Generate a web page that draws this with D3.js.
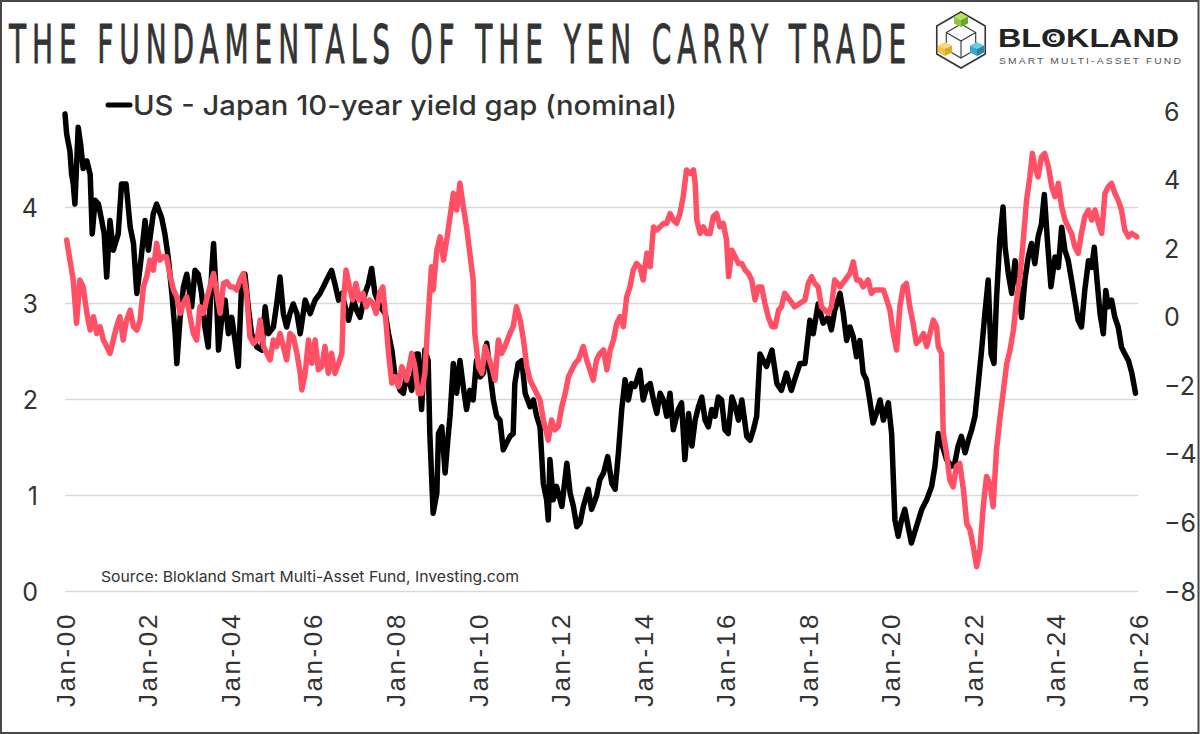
<!DOCTYPE html>
<html><head><meta charset="utf-8">
<script src="https://cdn.jsdelivr.net/npm/d3@7"></script>
<style>html,body{margin:0;padding:0;background:#fff;} svg{display:block}</style>
</head><body>
<svg id="chart" width="1200" height="734"></svg>
<script>
const titleText = "THE FUNDAMENTALS OF THE YEN CARRY TRADE";
const brandName = "BLOKLAND";
const brandSub = "SMART MULTI-ASSET FUND";
const legendLabel = "US - Japan 10-year yield gap (nominal)";
const sourceText = "Source: Blokland Smart Multi-Asset Fund, Investing.com";
const leftTicks = [0, 1, 2, 3, 4];
const rightTicks = [-8, -6, -4, -2, 0, 2, 4, 6];
const xTickYears = [2000, 2002, 2004, 2006, 2008, 2010, 2012, 2014, 2016, 2018, 2020, 2022, 2024, 2026];
const xTickLabels = ["Jan-00", "Jan-02", "Jan-04", "Jan-06", "Jan-08", "Jan-10", "Jan-12", "Jan-14", "Jan-16", "Jan-18", "Jan-20", "Jan-22", "Jan-24", "Jan-26"];

// US - Japan 10-year yield gap (left axis), dates as decimal years
const gapDates = [2000.00,2000.04,2000.12,2000.16,2000.20,2000.24,2000.32,2000.38,2000.44,2000.53,2000.61,2000.66,2000.73,2000.81,2000.89,2000.95,2001.01,2001.09,2001.17,2001.29,2001.37,2001.48,2001.58,2001.66,2001.74,2001.82,2001.94,2002.02,2002.14,2002.22,2002.34,2002.42,2002.50,2002.59,2002.67,2002.71,2002.79,2002.87,2002.95,2003.07,2003.15,2003.23,2003.31,2003.39,2003.47,2003.56,2003.60,2003.68,2003.72,2003.80,2003.88,2003.96,2004.04,2004.12,2004.20,2004.28,2004.36,2004.44,2004.52,2004.65,2004.77,2004.85,2004.93,2005.05,2005.13,2005.21,2005.29,2005.37,2005.45,2005.53,2005.62,2005.70,2005.82,2005.94,2006.06,2006.18,2006.26,2006.34,2006.46,2006.54,2006.63,2006.71,2006.79,2006.87,2006.99,2007.07,2007.15,2007.27,2007.35,2007.43,2007.51,2007.64,2007.76,2007.84,2007.92,2008.00,2008.12,2008.20,2008.28,2008.40,2008.52,
2008.56,2008.64,2008.72,2008.80,2008.84,2008.92,2009.01,2009.05,2009.13,2009.21,2009.29,2009.33,2009.41,2009.49,2009.57,2009.65,2009.73,2009.81,2009.89,2009.97,2010.06,2010.14,2010.22,2010.30,2010.38,2010.46,2010.54,2010.62,2010.70,2010.78,2010.86,2010.90,2010.98,2011.07,2011.15,2011.27,2011.35,2011.43,2011.51,2011.59,2011.67,2011.71,2011.75,2011.83,2011.91,2012.04,2012.16,2012.24,2012.32,2012.40,2012.48,2012.56,2012.68,2012.76,2012.88,2012.96,2013.05,2013.15,2013.25,2013.33,2013.41,2013.49,2013.57,2013.65,2013.73,2013.81,2013.93,2014.01,2014.10,2014.18,2014.26,2014.34,2014.42,2014.50,2014.58,2014.66,2014.74,2014.86,2014.94,2015.02,2015.11,2015.19,2015.27,2015.35,2015.43,2015.51,2015.59,2015.67,2015.75,2015.83,2015.91,2015.99,2016.07,2016.16,2016.24,2016.32,2016.40,2016.52,2016.60,2016.68,2016.76,2016.84,2016.92,2017.00,2017.13,2017.25,
2017.36,2017.48,2017.60,2017.68,2017.81,2017.93,2018.05,2018.13,2018.25,2018.37,2018.49,2018.57,2018.65,2018.78,2018.86,2018.94,2019.02,2019.10,2019.18,2019.26,2019.34,2019.42,2019.50,2019.58,2019.66,2019.75,2019.83,2019.95,2020.03,2020.11,2020.19,2020.27,2020.35,2020.43,2020.51,2020.63,2020.76,2020.88,2021.00,2021.08,2021.16,2021.24,2021.36,2021.48,2021.56,2021.64,2021.72,2021.81,2021.89,2021.97,2022.05,2022.13,2022.21,2022.29,2022.37,2022.44,2022.51,2022.57,2022.65,2022.73,2022.78,2022.86,2022.94,2023.02,2023.10,2023.18,2023.26,2023.34,2023.42,2023.50,2023.58,2023.66,2023.73,2023.81,2023.89,2023.99,2024.07,2024.15,2024.23,2024.31,2024.39,2024.47,2024.55,2024.63,2024.71,2024.80,2024.88,2024.94,2025.00,2025.08,2025.16,2025.22,2025.28,2025.36,2025.44,2025.52,2025.60,2025.68,2025.77,2025.85,2025.94];
const gapValues = [4.97,4.76,4.58,4.34,4.24,4.03,4.83,4.65,4.40,4.48,4.34,3.72,4.07,4.03,3.86,3.72,3.27,3.86,3.55,3.72,4.24,4.24,3.79,3.62,3.10,3.37,3.86,3.55,3.93,4.03,3.89,3.72,3.48,3.10,2.68,2.37,2.85,3.17,3.30,2.96,3.34,3.30,3.10,2.75,2.54,3.37,3.62,2.96,2.51,2.85,3.03,2.68,2.85,2.61,2.34,3.20,3.30,2.96,2.68,2.54,2.51,2.96,2.68,2.75,2.99,3.27,2.89,2.75,2.89,2.99,2.89,2.68,3.03,2.89,3.03,3.10,3.17,3.24,3.34,3.20,3.03,3.10,2.96,2.82,3.03,2.92,2.85,3.10,3.20,3.36,3.10,2.96,2.89,2.68,2.51,2.23,2.09,2.06,2.27,2.09,2.47,
2.47,1.89,2.51,2.40,1.64,0.81,1.02,1.64,1.71,1.23,1.64,1.82,2.37,2.06,2.40,2.13,1.89,2.09,1.99,2.40,2.23,2.27,2.58,2.27,1.99,1.82,1.78,1.47,1.54,1.61,1.64,2.16,2.37,2.40,2.06,1.92,1.99,1.82,1.71,1.12,0.95,0.74,1.37,0.95,1.09,0.88,1.33,1.02,0.88,0.67,0.71,0.88,1.06,0.85,0.99,1.16,1.23,1.40,1.12,1.06,1.44,1.89,2.20,1.99,2.16,2.13,2.30,1.99,2.13,2.16,1.99,1.85,2.06,1.99,1.82,2.06,1.68,1.89,1.96,1.37,1.85,1.51,1.78,1.92,2.02,1.78,1.71,1.89,1.82,2.02,1.99,1.68,1.64,2.02,1.92,1.78,1.99,1.61,1.57,1.68,1.82,2.47,2.40,2.34,2.51,2.16,
2.09,2.27,2.09,2.20,2.37,2.37,2.82,2.68,2.99,2.79,2.85,2.72,2.92,3.10,2.89,2.61,2.75,2.65,2.44,2.61,2.27,2.20,1.99,1.75,1.85,1.99,1.78,1.96,1.64,0.74,0.57,0.74,0.85,0.67,0.50,0.67,0.85,0.95,1.09,1.30,1.64,1.54,1.37,1.30,1.33,1.51,1.61,1.44,1.57,1.68,1.82,2.16,2.51,2.89,3.24,2.47,2.37,3.03,3.65,4.00,3.58,3.30,3.10,3.44,3.20,2.85,3.24,3.48,3.62,3.41,3.69,3.82,4.13,3.62,3.17,3.48,3.37,3.79,3.55,3.44,3.24,3.03,2.82,2.75,3.13,3.44,3.37,3.58,3.27,2.89,2.68,3.13,2.96,3.03,2.85,2.75,2.54,2.47,2.40,2.27,2.06];

// Second (red) series on the right axis
const redDates = [2000.04,2000.12,2000.20,2000.28,2000.36,2000.44,2000.53,2000.61,2000.69,2000.77,2000.85,2000.93,2001.01,2001.09,2001.17,2001.25,2001.33,2001.41,2001.49,2001.58,2001.66,2001.74,2001.82,2001.90,2001.98,2002.06,2002.14,2002.22,2002.30,2002.38,2002.46,2002.55,2002.63,2002.71,2002.79,2002.87,2002.95,2003.03,2003.11,2003.19,2003.27,2003.35,2003.47,2003.60,2003.68,2003.76,2003.84,2003.92,2004.00,2004.08,2004.16,2004.24,2004.32,2004.40,2004.48,2004.57,2004.65,2004.73,2004.81,2004.89,2004.97,2005.05,2005.13,2005.21,2005.29,2005.37,2005.45,2005.53,2005.62,2005.70,2005.74,2005.82,2005.90,2005.98,2006.06,2006.14,2006.22,2006.30,2006.38,2006.46,2006.54,2006.63,2006.71,2006.75,2006.81,2006.89,2006.97,2007.05,2007.13,2007.22,2007.30,2007.38,2007.46,2007.54,2007.62,2007.70,2007.76,2007.84,2007.92,2008.00,2008.08,2008.16,2008.28,2008.40,2008.48,2008.56,
2008.64,2008.72,2008.80,2008.88,2008.92,2009.01,2009.09,2009.17,2009.25,2009.33,2009.41,2009.49,2009.57,2009.65,2009.73,2009.81,2009.89,2009.93,2010.02,2010.10,2010.18,2010.26,2010.34,2010.42,2010.50,2010.58,2010.66,2010.78,2010.86,2010.94,2011.03,2011.11,2011.19,2011.27,2011.35,2011.43,2011.51,2011.59,2011.71,2011.79,2011.87,2011.95,2012.04,2012.12,2012.20,2012.28,2012.36,2012.44,2012.56,2012.64,2012.72,2012.80,2012.88,2012.96,2013.05,2013.13,2013.21,2013.29,2013.37,2013.45,2013.53,2013.61,2013.69,2013.77,2013.85,2013.93,2014.01,2014.10,2014.18,2014.26,2014.34,2014.42,2014.50,2014.58,2014.66,2014.74,2014.82,2014.90,2014.98,2015.06,2015.15,2015.23,2015.27,2015.31,2015.39,2015.47,2015.55,2015.63,2015.71,2015.79,2015.87,2015.95,2016.03,2016.08,2016.16,2016.24,2016.32,2016.40,2016.48,2016.56,2016.64,2016.72,2016.80,2016.88,2016.96,2017.04,2017.13,2017.21,2017.29,
2017.36,2017.44,2017.56,2017.68,2017.81,2017.93,2018.01,2018.09,2018.17,2018.25,2018.33,2018.41,2018.49,2018.57,2018.65,2018.78,2018.90,2019.02,2019.10,2019.18,2019.26,2019.34,2019.46,2019.54,2019.62,2019.70,2019.83,2019.91,2019.99,2020.07,2020.15,2020.23,2020.31,2020.39,2020.47,2020.55,2020.63,2020.71,2020.80,2020.88,2020.96,2021.04,2021.12,2021.16,2021.24,2021.28,2021.36,2021.44,2021.52,2021.60,2021.68,2021.77,2021.85,2021.93,2022.01,2022.09,2022.17,2022.25,2022.33,2022.41,2022.49,2022.57,2022.65,2022.73,2022.82,2022.90,2022.98,2023.06,2023.14,2023.22,2023.30,2023.38,2023.44,2023.50,2023.58,2023.66,2023.74,2023.83,2023.91,2023.99,2024.07,2024.15,2024.23,2024.31,2024.39,2024.47,2024.55,2024.63,2024.71,2024.80,2024.88,2024.96,2025.04,2025.12,2025.20,2025.28,2025.36,2025.44,2025.52,2025.60,2025.68,2025.77,2025.85,2025.97];
const redValues = [2.24,1.65,1.07,-0.19,1.07,0.87,0.10,-0.39,0.00,-0.49,-0.29,-0.68,-0.87,-1.07,-0.68,-0.29,0.00,-0.68,-0.10,0.19,-0.29,-0.39,-0.10,0.87,1.17,1.65,1.36,2.14,1.65,1.75,1.75,1.17,0.78,0.58,0.10,0.39,0.58,0.00,-0.49,-0.68,0.29,0.10,0.68,1.26,0.68,0.10,0.97,1.02,0.87,0.87,0.78,1.07,1.26,0.68,-0.58,-0.78,-0.68,-0.10,-0.87,-1.07,-1.26,-0.68,-0.87,-0.49,-0.87,-1.26,-0.49,-0.58,-1.07,-1.65,-2.14,-1.65,-0.68,-1.36,-0.68,-1.55,-1.46,-0.87,-1.65,-1.07,-1.65,-1.36,-1.07,0.49,1.36,0.87,0.49,0.97,0.49,0.68,0.29,0.49,0.39,0.10,0.68,0.87,0.10,-1.07,-1.94,-1.75,-2.04,-1.46,-1.85,-1.07,-1.46,-2.24,
-2.24,-1.65,0.00,1.46,0.78,1.94,2.33,1.65,2.24,2.92,3.60,3.11,3.89,3.21,2.62,1.85,1.07,-0.49,-1.46,-1.65,-0.87,-1.17,-1.46,-1.85,-0.68,-1.07,-0.87,-0.49,-0.29,0.29,-0.10,-0.68,-1.46,-1.85,-2.04,-2.24,-2.43,-3.01,-3.60,-3.01,-3.30,-3.21,-2.62,-2.24,-1.75,-1.55,-1.36,-1.26,-0.87,-1.26,-1.55,-1.85,-1.26,-1.07,-0.97,-1.55,-0.97,-0.68,-0.19,0.00,-0.29,0.58,0.87,1.36,1.55,1.46,1.07,1.85,1.46,2.62,2.53,2.62,2.72,2.72,3.01,2.82,2.72,3.01,3.50,4.28,4.18,4.28,3.89,2.82,2.43,2.62,2.43,2.43,2.92,3.01,2.62,2.72,2.24,1.17,1.94,1.75,1.55,1.55,1.36,1.26,1.07,0.49,0.87,0.87,0.39,0.00,-0.29,-0.29,0.19,
0.29,0.68,0.49,0.29,0.39,0.49,0.97,1.17,0.97,0.87,0.29,0.19,0.10,0.29,1.07,0.87,1.07,1.26,1.60,1.07,1.07,0.87,1.07,0.68,0.78,0.78,0.78,0.49,0.19,-0.49,-0.97,0.29,0.87,0.97,0.29,-0.19,-0.78,-0.68,-0.49,-0.87,-0.49,-0.10,-0.29,-0.87,-1.07,-3.40,-3.98,-4.76,-4.96,-4.37,-4.28,-5.05,-6.03,-6.22,-6.71,-7.29,-6.80,-5.54,-4.66,-4.86,-5.54,-3.89,-3.01,-2.24,-1.36,-0.97,-0.39,0.49,1.17,2.24,3.40,4.08,4.76,4.37,4.08,4.66,4.76,4.37,3.79,3.50,3.89,3.21,2.82,2.62,2.43,2.04,1.85,2.43,2.92,3.11,2.82,3.11,2.72,2.43,3.60,3.79,3.89,3.60,3.40,3.11,2.53,2.33,2.43,2.33];

const W = 1200, H = 734;
const svg = d3.select("#chart");
const textColor = "#333333";
const gridColor = "#d9d9d9";
const redColor = "#ff5065";
const uiFont = "Inter, Roboto, 'Noto Sans', sans-serif";

svg.append("rect").attr("x", 1).attr("y", 1).attr("width", W - 2.5).attr("height", H - 2)
  .attr("fill", "#fff").attr("stroke", "#474747").attr("stroke-width", 2);

const plot = {left: 65, right: 1138, top: 111, bottom: 591};
const x = d3.scaleLinear().domain([2000, 2026]).range([plot.left, plot.right]);
const yL = d3.scaleLinear().domain([0, 5]).range([plot.bottom, plot.top]);
const yR = d3.scaleLinear().domain([-8, 6]).range([plot.bottom, plot.top]);

// left axis + gridlines
const gL = svg.append("g").attr("transform", `translate(${plot.left},0)`)
  .call(d3.axisLeft(yL).tickValues(leftTicks).tickFormat(d3.format("d"))
    .tickSize(-(plot.right - plot.left)).tickPadding(27));
gL.select(".domain").remove();
gL.selectAll(".tick line").attr("stroke", gridColor).attr("stroke-width", 1.6);
gL.selectAll(".tick text").attr("fill", textColor).style("font-family", uiFont)
  .style("font-size", "25px").attr("dy", "0.36em");

// right axis
const gR = svg.append("g").attr("transform", `translate(${plot.right},0)`)
  .call(d3.axisRight(yR).tickValues(rightTicks).tickFormat(d3.format("d")).tickSize(0).tickPadding(26));
gR.select(".domain").remove();
gR.selectAll(".tick text").attr("fill", textColor).style("font-family", uiFont)
  .style("font-size", "25px").attr("dy", "0.36em");

// x axis
const gX = svg.append("g").attr("transform", `translate(0,${plot.bottom})`)
  .call(d3.axisBottom(x).tickValues(xTickYears).tickFormat((d, i) => xTickLabels[i]).tickSize(0));
gX.select(".domain").remove();
gX.selectAll(".tick text").attr("x", 0).attr("y", 0).attr("dy", "0.36em")
  .attr("transform", "translate(0,21) rotate(-90)").style("text-anchor", "end")
  .attr("fill", textColor).style("font-family", "'Liberation Sans', Arial, sans-serif")
  .style("font-size", "26px").style("letter-spacing", "2.6px");

// lines
const gapData = d3.zip(gapDates, gapValues);
const redData = d3.zip(redDates, redValues);
const lineL = d3.line().x(d => x(d[0])).y(d => yL(d[1]));
const lineR = d3.line().x(d => x(d[0])).y(d => yR(d[1]));
svg.append("path").datum(gapData).attr("d", lineL).attr("fill", "none")
  .attr("stroke", "#000").attr("stroke-width", 5.5).attr("stroke-linejoin", "round").attr("stroke-linecap", "round");
svg.append("path").datum(redData).attr("d", lineR).attr("fill", "none")
  .attr("stroke", redColor).attr("stroke-width", 5.5).attr("stroke-linejoin", "round").attr("stroke-linecap", "round");

// legend
svg.append("line").attr("x1", 108).attr("x2", 130).attr("y1", 105).attr("y2", 105)
  .attr("stroke", "#000").attr("stroke-width", 5).attr("stroke-linecap", "round");
svg.append("text").attr("x", 133).attr("y", 115).text(legendLabel)
  .attr("textLength", 544).attr("lengthAdjust", "spacingAndGlyphs")
  .attr("fill", textColor).style("font-family", uiFont)
  .style("font-size", "27px").style("font-weight", 500);

// source
svg.append("text").attr("x", 101).attr("y", 582).text(sourceText)
  .attr("textLength", 418).attr("lengthAdjust", "spacingAndGlyphs")
  .attr("fill", textColor).style("font-family", uiFont).style("font-size", "15px");

// title
svg.append("text").attr("x", 9).attr("y", 63).text(titleText)
  .attr("textLength", 903).attr("lengthAdjust", "spacingAndGlyphs")
  .attr("fill", textColor).attr("stroke", textColor).attr("stroke-width", 0.8)
  .style("font-family", "'Liberation Sans Narrow', 'DejaVu Sans Condensed', 'Liberation Sans', sans-serif")
  .style("font-size", "53px").style("font-weight", 400).style("letter-spacing", "10px");

// logo
const logo = svg.append("g");
const cx = 961, cy = 40, R = 28;
const hex = d3.range(6).map(i => {
  const a = Math.PI / 180 * (-90 + 60 * i);
  return [cx + R * Math.cos(a), cy + R * Math.sin(a)];
});
logo.append("polygon").attr("points", hex.map(p => p.join(",")).join(" "))
  .attr("fill", "none").attr("stroke", "#333").attr("stroke-width", 1.6);
const r2 = 17;
const inner = d3.range(6).map(i => {
  const a = Math.PI / 180 * (-90 + 60 * i);
  return [cx + r2 * Math.cos(a), cy + 1 + r2 * Math.sin(a)];
});
logo.append("polygon").attr("points", inner.map(p => p.join(",")).join(" "))
  .attr("fill", "none").attr("stroke", "#333").attr("stroke-width", 1.1);
[[inner[5], [cx, cy + 1]], [inner[1], [cx, cy + 1]], [[cx, cy + 1], inner[3]]].forEach(s => {
  logo.append("line").attr("x1", s[0][0]).attr("y1", s[0][1]).attr("x2", s[1][0]).attr("y2", s[1][1])
    .attr("stroke", "#333").attr("stroke-width", 1.1);
});
function cube(px, py, s, top, left, right) {
  const h = s * 0.5;
  const g = logo.append("g");
  g.append("polygon").attr("points", `${px},${py - s} ${px + s},${py - s + h} ${px},${py} ${px - s},${py - s + h}`).attr("fill", top);
  g.append("polygon").attr("points", `${px - s},${py - s + h} ${px},${py} ${px},${py + s} ${px - s},${py + h}`).attr("fill", left);
  g.append("polygon").attr("points", `${px + s},${py - s + h} ${px},${py} ${px},${py + s} ${px + s},${py + h}`).attr("fill", right);
}
cube(cx, 20, 7, "#b5e55a", "#8cc63f", "#6fa52e");
cube(945, 49, 7, "#ffd97a", "#f7c244", "#e0a82a");
cube(977, 49, 7, "#6cc8e3", "#3aa7c9", "#2a86a5");
const brand = svg.append("text").attr("x", 998).attr("y", 47).text(brandName)
  .attr("textLength", 181).attr("lengthAdjust", "spacingAndGlyphs")
  .attr("fill", "#222").style("font-family", "'Liberation Sans', Arial, sans-serif")
  .style("font-size", "25px").style("font-weight", 700);
// small "c" mark inside the O of the brand name, drawn as an arc
const oBox = brand.node().getExtentOfChar(2);
const ocx = oBox.x + oBox.width / 2, ocy = 47 - 9;
const cr = 3.6;
const a1 = Math.PI / 4, a2 = -Math.PI / 4;
svg.append("path")
  .attr("d", `M${ocx + cr * Math.cos(a2)},${ocy + cr * Math.sin(a2)} A${cr},${cr} 0 1 0 ${ocx + cr * Math.cos(a1)},${ocy + cr * Math.sin(a1)}`)
  .attr("fill", "none").attr("stroke", "#222").attr("stroke-width", 2);
svg.append("text").attr("x", 999).attr("y", 64).text(brandSub)
  .attr("textLength", 184).attr("lengthAdjust", "spacingAndGlyphs")
  .attr("fill", "#555").style("font-family", "'Liberation Sans', Arial, sans-serif")
  .style("font-size", "9.5px").style("letter-spacing", "2px");
</script>
</body></html>
